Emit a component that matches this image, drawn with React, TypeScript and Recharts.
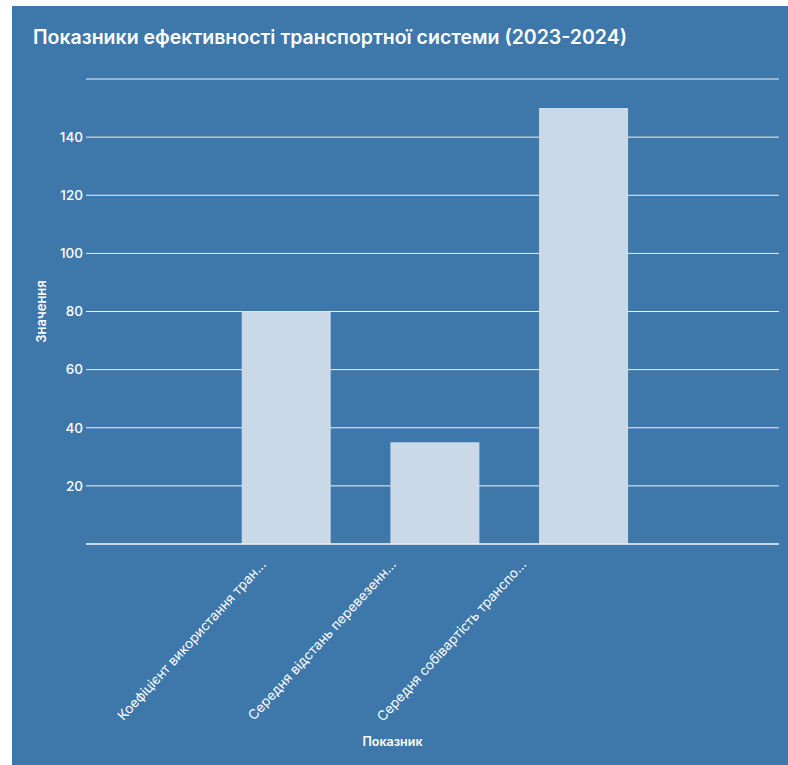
import { BarChart, Bar, XAxis, YAxis, CartesianGrid } from 'recharts'

// #region Data
const categories = [
  'Коефіцієнт використання тран...',
  'Середня відстань перевезенн...',
  'Середня собівартість транспо...',
]
const values = [80, 35, 150]
const yTicks = [0, 20, 40, 60, 80, 100, 120, 140, 160]

const data = categories.map((name, i) => ({ name, value: values[i] }))

const BG = '#3e77aa'
const BAR = '#c9d9e8'
const FONT = 'Inter, "Noto Sans", sans-serif'

// Rotated category labels, anchored at their end
const XTick = ({ x, y, payload, index }: any) => (
  <g transform={`translate(${x - 19.5 - 18.5 * index},${y + 19})`}>
    <text transform="rotate(-47.5)" textAnchor="end" fill="#ffffff" fontSize={13.5} fontFamily={FONT}>
      {payload.value}
    </text>
  </g>
)

export default function App() {
  return (
    <div
      style={{
        position: 'absolute',
        left: 12,
        top: 6,
        width: 776,
        height: 759,
        background: BG,
        fontFamily: FONT,
      }}
    >
      <div
        style={{
          position: 'absolute',
          left: 21,
          top: 19,
          color: '#ffffff',
          fontSize: 19.5,
          fontWeight: 600,
          whiteSpace: 'nowrap',
        }}
      >
        Показники ефективності транспортної системи (2023-2024)
      </div>
      <div style={{ position: 'absolute', left: 0, top: 0 }}>
        <BarChart
          width={776}
          height={759}
          data={data}
          margin={{ top: 73, right: 9, left: 14, bottom: 41 }}
          barCategoryGap="20%"
        >
          <CartesianGrid vertical={false} stroke="#ffffff" strokeOpacity={0.9} />
          <XAxis
            dataKey="name"
            height={180}
            padding={{ left: 126, right: 121 }}
            interval={0}
            tick={<XTick />}
            tickLine={false}
            tickSize={0}
            axisLine={{ stroke: '#ffffff', strokeOpacity: 0.9 }}
            label={{
              value: 'Показник',
              position: 'insideBottom',
              offset: -22,
              dx: -40,
              fill: '#ffffff',
              fontSize: 12.5,
              fontWeight: 600,
            }}
          />
          <YAxis
            width={60}
            domain={[0, 160]}
            ticks={yTicks}
            interval={0}
            tickFormatter={(v: number) => (v === 0 || v === 160 ? '' : String(v))}
            tick={{ fill: '#ffffff', fontSize: 13.5, fontWeight: 500 }}
            tickLine={false}
            tickSize={3}
            tickMargin={0}
            axisLine={false}
            label={{
              value: 'Значення',
              angle: -90,
              position: 'insideLeft',
              dx: 10,
              style: { textAnchor: 'middle' },
              fill: '#ffffff',
              fontSize: 13,
              fontWeight: 600,
            }}
          />
          <Bar dataKey="value" fill={BAR} isAnimationActive={false} />
        </BarChart>
      </div>
    </div>
  )
}
